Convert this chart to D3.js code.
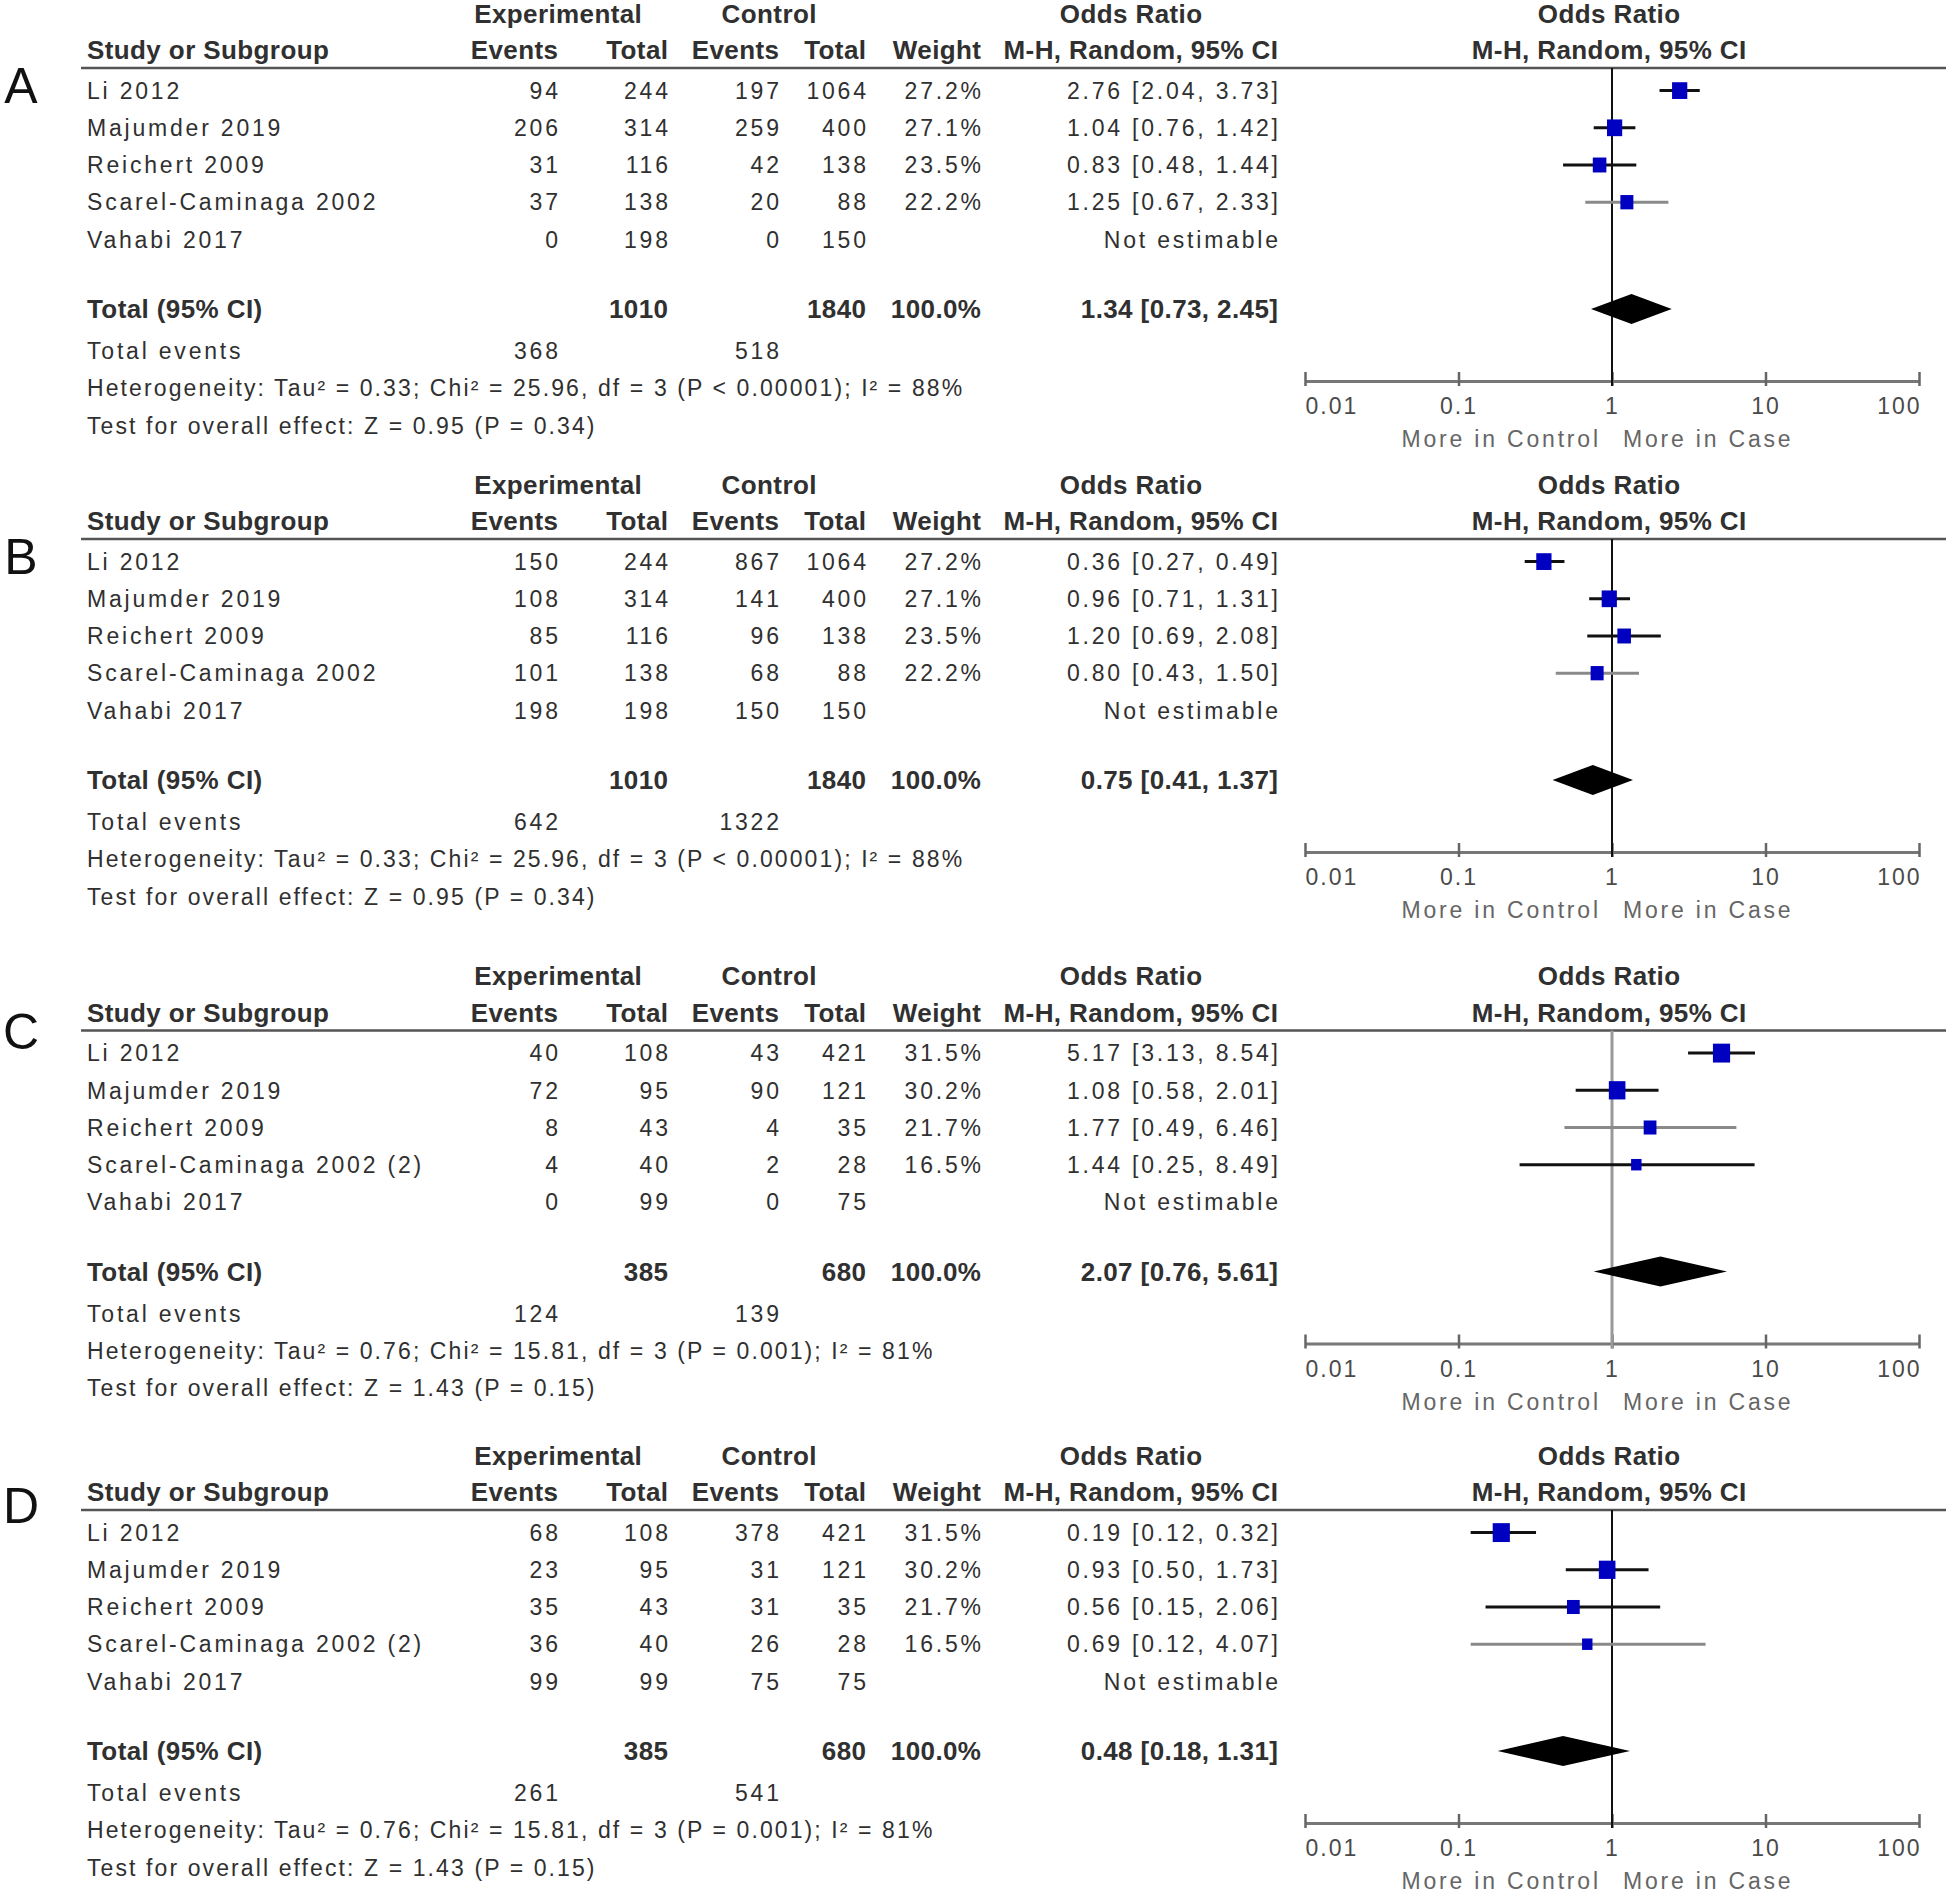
<!DOCTYPE html>
<html>
<head>
<meta charset="utf-8">
<script src="https://cdn.jsdelivr.net/npm/d3@7"></script>
<style>
body { margin: 0; background: #fff; }
text { font-family: "Liberation Sans", Arial, sans-serif; fill: #303030; }
</style>
</head>
<body>
<div id="chart"></div>
<script>
// data
var panelLetters = ["A", "B", "C", "D"];
var studiesAB = ["Li 2012", "Majumder 2019", "Reichert 2009", "Scarel-Caminaga 2002", "Vahabi 2017"];
var studiesCD = ["Li 2012", "Majumder 2019", "Reichert 2009", "Scarel-Caminaga 2002 (2)", "Vahabi 2017"];

var expTotalAB = [244, 314, 116, 138, 198];
var ctlTotalAB = [1064, 400, 138, 88, 150];
var weightAB = [27.2, 27.1, 23.5, 22.2, null];
var expTotalCD = [108, 95, 43, 40, 99];
var ctlTotalCD = [421, 121, 35, 28, 75];
var weightCD = [31.5, 30.2, 21.7, 16.5, null];

var expEventsA = [94, 206, 31, 37, 0];
var ctlEventsA = [197, 259, 42, 20, 0];
var orA = [2.76, 1.04, 0.83, 1.25, null];
var loA = [2.04, 0.76, 0.48, 0.67, null];
var hiA = [3.73, 1.42, 1.44, 2.33, null];

var expEventsB = [150, 108, 85, 101, 198];
var ctlEventsB = [867, 141, 96, 68, 150];
var orB = [0.36, 0.96, 1.20, 0.80, null];
var loB = [0.27, 0.71, 0.69, 0.43, null];
var hiB = [0.49, 1.31, 2.08, 1.50, null];

var expEventsC = [40, 72, 8, 4, 0];
var ctlEventsC = [43, 90, 4, 2, 0];
var orC = [5.17, 1.08, 1.77, 1.44, null];
var loC = [3.13, 0.58, 0.49, 0.25, null];
var hiC = [8.54, 2.01, 6.46, 8.49, null];

var expEventsD = [68, 23, 35, 36, 99];
var ctlEventsD = [378, 31, 31, 26, 75];
var orD = [0.19, 0.93, 0.56, 0.69, null];
var loD = [0.12, 0.50, 0.15, 0.12, null];
var hiD = [0.32, 1.73, 2.06, 4.07, null];

// pooled [or, lo, hi]
var pooledA = [1.34, 0.73, 2.45];
var pooledB = [0.75, 0.41, 1.37];
var pooledC = [2.07, 0.76, 5.61];
var pooledD = [0.48, 0.18, 1.31];

var sumTotalsAB = [1010, 1840];
var sumTotalsCD = [385, 680];
var totalEventsA = [368, 518];
var totalEventsB = [642, 1322];
var totalEventsC = [124, 139];
var totalEventsD = [261, 541];

var heterogeneityAB = "Heterogeneity: Tau\u00b2 = 0.33; Chi\u00b2 = 25.96, df = 3 (P < 0.00001); I\u00b2 = 88%";
var heterogeneityCD = "Heterogeneity: Tau\u00b2 = 0.76; Chi\u00b2 = 15.81, df = 3 (P = 0.001); I\u00b2 = 81%";
var overallAB = "Test for overall effect: Z = 0.95 (P = 0.34)";
var overallCD = "Test for overall effect: Z = 1.43 (P = 0.15)";

var axisTicks = [0.01, 0.1, 1, 10, 100];

var panels = [
  {studies: studiesAB, expE: expEventsA, expT: expTotalAB, ctlE: ctlEventsA, ctlT: ctlTotalAB, w: weightAB,
   or: orA, lo: loA, hi: hiA, pooled: pooledA, sums: sumTotalsAB, events: totalEventsA, het: heterogeneityAB, test: overallAB},
  {studies: studiesAB, expE: expEventsB, expT: expTotalAB, ctlE: ctlEventsB, ctlT: ctlTotalAB, w: weightAB,
   or: orB, lo: loB, hi: hiB, pooled: pooledB, sums: sumTotalsAB, events: totalEventsB, het: heterogeneityAB, test: overallAB},
  {studies: studiesCD, expE: expEventsC, expT: expTotalCD, ctlE: ctlEventsC, ctlT: ctlTotalCD, w: weightCD,
   or: orC, lo: loC, hi: hiC, pooled: pooledC, sums: sumTotalsCD, events: totalEventsC, het: heterogeneityCD, test: overallCD},
  {studies: studiesCD, expE: expEventsD, expT: expTotalCD, ctlE: ctlEventsD, ctlT: ctlTotalCD, w: weightCD,
   or: orD, lo: loD, hi: hiD, pooled: pooledD, sums: sumTotalsCD, events: totalEventsD, het: heterogeneityCD, test: overallCD}
];

// layout
var W = 1946, H = 1895;
var panelTop = [0, 471, 962.5, 1442];
var letterY = [85, 85, 68, 63];
var grayCiRow = [3, 3, 2, 3];
var col = {name: 87, expE: 558, expT: 668, ctlE: 779, ctlT: 866, wt: 981, or: 1278};

var svg = d3.select("#chart")
            .append("svg")
            .attr("width", W)
            .attr("height", H);

svg.append("rect").attr("width", W).attr("height", H).attr("fill", "#fff");

var x = d3.scaleLog().domain([0.01, 100]).range([1305, 1919]);

function txt(g, px, py, s, anchor, bold, spacing) {
    var ls = spacing !== undefined ? spacing : (bold ? 0.4 : 2.8);
    var shift = anchor === "end" ? ls : (anchor === "middle" ? ls / 2 : 0);
    return g.append("text")
        .attr("x", px + shift)
        .attr("y", py)
        .attr("dy", "0.36em")
        .attr("text-anchor", anchor)
        .style("font-size", bold ? "26px" : "23px")
        .style("font-weight", bold ? "bold" : "normal")
        .style("letter-spacing", ls + "px")
        .text(s);
}

function fmtOr(v, lo, hi) {
    return v.toFixed(2) + " [" + lo.toFixed(2) + ", " + hi.toFixed(2) + "]";
}

function side(w) { return 3 + 0.45 * w; }

panels.forEach(function(p, k) {
    var top = panelTop[k];
    var g = svg.append("g").attr("class", "panel");
    var y = d3.scaleLinear().domain([0, 1]).range([top + 90.6, top + 127.8]);

    // panel letter
    g.append("text")
        .attr("x", 21).attr("y", top + letterY[k]).attr("dy", "0.36em")
        .attr("text-anchor", "middle")
        .style("font-size", "50px")
        .style("fill", "#111")
        .text(panelLetters[k]);

    // headers
    txt(g, 558, y(-2.07), "Experimental", "middle", true);
    txt(g, 769, y(-2.07), "Control", "middle", true);
    txt(g, 1131, y(-2.07), "Odds Ratio", "middle", true);
    txt(g, 1609, y(-2.07), "Odds Ratio", "middle", true);
    txt(g, col.name, y(-1.1), "Study or Subgroup", "start", true);
    txt(g, col.expE, y(-1.1), "Events", "end", true);
    txt(g, col.expT, y(-1.1), "Total", "end", true);
    txt(g, col.ctlE, y(-1.1), "Events", "end", true);
    txt(g, col.ctlT, y(-1.1), "Total", "end", true);
    txt(g, col.wt, y(-1.1), "Weight", "end", true);
    txt(g, col.or, y(-1.1), "M-H, Random, 95% CI", "end", true);
    txt(g, 1609, y(-1.1), "M-H, Random, 95% CI", "middle", true);

    g.append("line")
        .attr("x1", 81).attr("x2", W)
        .attr("y1", top + 68).attr("y2", top + 68)
        .attr("stroke", "#555").attr("stroke-width", 2.5);

    // study rows
    p.studies.forEach(function(s, i) {
        txt(g, col.name, y(i), s, "start", false);
        txt(g, col.expE, y(i), p.expE[i], "end", false);
        txt(g, col.expT, y(i), p.expT[i], "end", false);
        txt(g, col.ctlE, y(i), p.ctlE[i], "end", false);
        txt(g, col.ctlT, y(i), p.ctlT[i], "end", false);
        if (p.w[i] !== null) txt(g, col.wt, y(i), p.w[i].toFixed(1) + "%", "end", false);
        txt(g, col.or, y(i), p.or[i] !== null ? fmtOr(p.or[i], p.lo[i], p.hi[i]) : "Not estimable", "end", false);
    });

    // totals
    txt(g, col.name, y(5.87), "Total (95% CI)", "start", true);
    txt(g, col.expT, y(5.87), p.sums[0], "end", true);
    txt(g, col.ctlT, y(5.87), p.sums[1], "end", true);
    txt(g, col.wt, y(5.87), "100.0%", "end", true);
    txt(g, col.or, y(5.87), fmtOr(p.pooled[0], p.pooled[1], p.pooled[2]), "end", true);
    txt(g, col.name, y(7), "Total events", "start", false);
    txt(g, col.expE, y(7), p.events[0], "end", false);
    txt(g, col.ctlE, y(7), p.events[1], "end", false);
    txt(g, col.name, y(8), p.het, "start", false, 2.1);
    txt(g, col.name, y(9), p.test, "start", false, 2.1);

    // axis
    var axisY = top + 381;
    var ax = g.append("g")
        .attr("transform", "translate(0," + axisY + ")")
        .call(d3.axisBottom(x).tickValues(axisTicks).tickSizeOuter(0)
              .tickFormat(function(d) { return String(d); }));
    ax.select(".domain").attr("stroke", "#777").attr("stroke-width", 3);
    ax.selectAll(".tick line").attr("y1", -9).attr("y2", 5)
        .attr("stroke", "#666").attr("stroke-width", 2.5);
    ax.selectAll(".tick text")
        .attr("y", 33).attr("dy", "0")
        .attr("text-anchor", function(d, i) { return i === 0 ? "start" : (i === axisTicks.length - 1 ? "end" : "middle"); })
        .attr("dx", function(d, i) { return i === axisTicks.length - 1 ? 2 : 0; })
        .style("font-size", "23px")
        .style("letter-spacing", "2px")
        .style("font-family", "'Liberation Sans', Arial, sans-serif")
        .style("fill", "#4a4a4a");

    txt(g, 1598, top + 439, "More in Control", "end", false).style("fill", "#666");
    txt(g, 1623, top + 439, "More in Case", "start", false).style("fill", "#666");

    // line of no effect
    g.append("line")
        .attr("x1", x(1)).attr("x2", x(1))
        .attr("y1", top + 68).attr("y2", axisY + 5)
        .attr("stroke", k === 2 ? "#999" : "#111")
        .attr("stroke-width", k === 2 ? 3 : 2);

    // study estimates
    var rows = p.studies.map(function(s, i) { return {i: i, or: p.or[i], lo: p.lo[i], hi: p.hi[i], w: p.w[i]}; })
        .filter(function(d) { return d.or !== null; });

    g.selectAll("line.ci")
        .data(rows)
        .enter()
        .append("line")
        .attr("class", "ci")
        .attr("x1", function(d) { return x(d.lo); })
        .attr("x2", function(d) { return x(d.hi); })
        .attr("y1", function(d) { return y(d.i); })
        .attr("y2", function(d) { return y(d.i); })
        .attr("stroke", function(d) { return d.i === grayCiRow[k] ? "#8a8a8a" : "#111"; })
        .attr("stroke-width", 3);

    g.selectAll("rect.est")
        .data(rows)
        .enter()
        .append("rect")
        .attr("class", "est")
        .attr("x", function(d) { return x(d.or) - side(d.w) / 2; })
        .attr("y", function(d) { return y(d.i) - side(d.w) * 0.55; })
        .attr("width", function(d) { return side(d.w); })
        .attr("height", function(d) { return side(d.w) * 1.1; })
        .attr("fill", "#0000c0");

    // pooled diamond
    var dy = y(5.87);
    var pts = [[x(p.pooled[1]), dy], [x(p.pooled[0]), dy - 15], [x(p.pooled[2]), dy], [x(p.pooled[0]), dy + 15]];
    g.append("path")
        .attr("d", d3.line()(pts) + "Z")
        .attr("fill", "#000");
});
</script>
</body>
</html>
